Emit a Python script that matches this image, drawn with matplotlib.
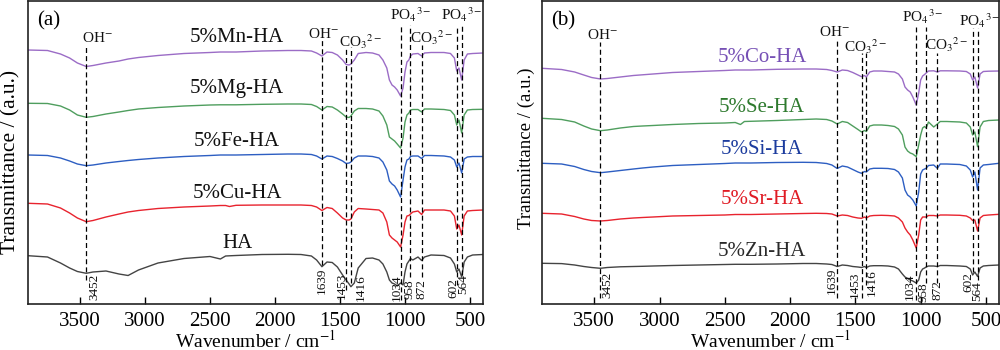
import matplotlib
matplotlib.use("Agg")
import matplotlib.pyplot as plt

plt.rcParams['font.family'] = ['Liberation Serif', 'DejaVu Serif']
plt.rcParams['mathtext.fontset'] = 'stix'

# ---------------- data ----------------
WN = [3900, 3750, 3650, 3580, 3520, 3452, 3400, 3300, 3200, 3130, 3050, 2900, 2700, 2500,
      2420, 2380, 2350, 2300, 2100, 1900, 1800, 1720, 1680, 1639, 1600, 1560, 1520, 1480,
      1453, 1430, 1416, 1390, 1360, 1300, 1250, 1200, 1170, 1140, 1120, 1100, 1080, 1060,
      1034, 1015, 1000, 985, 970, 958, 940, 900, 872, 850, 800, 700, 650, 620, 602, 585,
      564, 545, 520, 480, 400]

# panel (a)
mn_ha = [254, 253.5, 250, 246, 241, 237.5, 238.5, 241, 243, 245, 246.5, 248.5, 250.5, 251.5,
         252, 252, 252, 252, 253, 253.5, 253.5, 253, 251, 248, 252, 251.5, 249, 244, 239.5,
         239, 240, 244, 250.5, 251.5, 251, 249, 244, 236, 224, 219, 217, 214, 208, 216, 232,
         242, 244, 248, 250, 250.5, 248, 251, 251.5, 251.5, 250.5, 246, 233, 236, 224, 244,
         250, 250.5, 251]
mg_ha = [200.7, 200.5, 198, 194, 189, 186.7, 187.5, 190, 192, 193.5, 195, 196.5, 198, 199,
         199.2, 199.2, 199.2, 199.2, 199.7, 200, 200, 199.5, 197.5, 194, 197.5, 197, 194, 190,
         187, 186.5, 188, 193, 195.5, 195.5, 195, 193, 188, 179, 167, 165, 163, 160, 156, 166,
         182, 189, 191, 194, 194.5, 194.5, 192, 195, 195, 194.5, 193.5, 189, 179, 184, 171,
         189, 194, 194.5, 194.7]
fe_ha = [149, 148.5, 146, 143, 140, 138.3, 139, 141, 142.5, 143.5, 144.5, 146, 147.5, 148.5,
         149, 149, 149, 149, 149.5, 150, 150, 149.5, 148, 145, 148, 147.5, 145.5, 143, 140.5,
         141, 142, 146, 148, 148, 147.5, 146, 142, 134, 123, 120, 118, 114, 107, 124, 137,
         144, 145, 147.5, 148, 148, 145.5, 148.5, 148.5, 148, 147, 144, 137, 141, 131, 145,
         147, 147.5, 147.5]
cu_ha = [100.7, 100, 96, 91, 86, 82.3, 83.5, 87, 90, 92, 93.5, 95.5, 97, 98, 98.5, 98.5, 97.5,
         98.7, 99, 99, 99, 98.5, 97, 93.5, 96.5, 95.5, 91, 86, 84, 84, 85, 92, 95.5, 95, 94.5,
         94, 91, 82, 69, 66, 64, 62, 57, 69, 82, 88, 88.5, 90, 92, 93, 89.5, 94, 94, 94, 93,
         88, 75, 79, 69, 88, 93, 93.5, 94]
ha = [48.3, 47, 41, 36, 32.5, 30.7, 32, 33, 30, 28.5, 34, 41, 45.5, 47.5, 45, 48, 48.2, 48.5,
      49.5, 49.7, 49.5, 48, 44, 37.3, 42, 41.5, 37, 29, 24, 20, 17.3, 21, 36, 45.5, 46, 44, 40,
      32, 24, 21, 20, 18, 21, 19, 32, 40, 43, 45.5, 44, 47, 43.5, 47, 49, 48.5, 46, 40, 32, 35,
      27, 42, 47, 49, 49.5]

# panel (b)
co_ha = [235.7, 234.5, 232, 229, 226.5, 225, 225.5, 227, 228.5, 229.2, 230, 231.5, 232.5,
         233.5, 234, 234, 234, 234, 234.7, 235, 235, 234.5, 233.5, 232, 234, 233.5, 231.5, 229,
         227.3, 228.5, 227, 232, 233, 233, 232.5, 232, 230, 225, 217, 214, 212, 207, 199, 211,
         224, 228, 229.5, 231, 233, 233.2, 232, 233.2, 233.2, 233, 232.5, 230, 224, 227, 216,
         230, 232.5, 232.8, 233]
se_ha = [185.7, 184.5, 182, 178, 175, 173.3, 174, 176, 177.5, 178, 178.5, 179.5, 180.5, 181,
         181.5, 179.5, 182.5, 182.7, 183.5, 184.5, 185, 184.5, 183, 180, 182.5, 181.5, 178,
         174.5, 172, 173.5, 172.5, 178, 179, 179, 178.5, 177.5, 175, 169, 157, 153, 151, 150,
         147.3, 159, 169, 176, 177.5, 176, 182, 177, 180, 182.5, 182.5, 182, 181, 177, 169,
         172, 157.3, 177, 182.5, 183.5, 184]
si_ha = [140.7, 140, 137.5, 134.5, 132.5, 131.3, 132, 133.5, 135, 136, 137, 138.5, 139.5,
         140.5, 141, 141, 141, 141, 141.5, 141.7, 141.5, 140.5, 139, 135.5, 138, 137, 134.5,
         132, 130.7, 132.5, 132, 135, 135.7, 135.7, 135.5, 134.5, 132, 126, 114, 109, 107, 104,
         98, 112, 130, 134, 135, 135.7, 138.5, 139, 135.7, 140, 140, 139.5, 138, 134, 127, 132,
         114, 136, 139, 139.5, 140.7]
sr_ha = [90.7, 90, 87.5, 85, 83.5, 83, 83.5, 85, 86, 86.5, 87, 88, 88.5, 89, 89.5, 89.5, 89.5,
         89.5, 90, 90.5, 90.7, 90.5, 90, 88, 89, 88.5, 87, 86, 85.7, 87, 86, 88, 88.5, 88.7,
         88.5, 88, 86, 82, 76, 72, 69, 64, 56, 69, 84, 87, 87, 87, 88.5, 88.5, 88, 89, 89, 88.7,
         88, 86, 83.5, 84, 73, 86, 88.5, 89, 89.7]
zn_ha = [40.7, 40.4, 39, 37.5, 36.5, 35.7, 36.5, 37.2, 37.5, 37.7, 38, 38.5, 39, 39.5, 39.7,
         39.7, 39.7, 39.7, 40, 40.5, 40.5, 40, 39.5, 37.5, 39, 38.5, 37.5, 37, 36.5, 37.5, 36.5,
         38, 38.3, 38.3, 38, 37, 35, 30, 27, 25.5, 24, 23, 21, 24, 32, 35, 36, 37, 38, 38, 37.5,
         38.5, 38.5, 38, 37.5, 35, 29, 32, 27.5, 36, 38, 38.5, 39]

names_a = ['5%Mn-HA', '5%Mg-HA', '5%Fe-HA', '5%Cu-HA', 'HA']
names_b = ['5%Co-HA', '5%Se-HA', '5%Si-HA', '5%Sr-HA', '5%Zn-HA']

BAND_WN = [3452, 1639, 1453, 1416, 1034, 958, 872, 602, 564]
BAND_TXT = ['3452', '1639', '1453', '1416', '1034', '958', '872', '602', '564']

GROUP_TXT = [r'OH$^{-}$', r'OH$^{-}$', r'CO$_3{}^{2-}$', r'PO$_4{}^{3-}$', r'CO$_3{}^{2-}$',
             r'PO$_4{}^{3-}$']

XTICKS = [3500, 3000, 2500, 2000, 1500, 1000, 500]

# ---------------- style / layout ----------------
line_cols = ['#9b6cc6', '#4f9e5e', '#2d5ec2', '#e8232e', '#444444']
lab_cols_a = ['#111111'] * 5
lab_cols_b = ['#7650b5', '#2e7a2e', '#1c3c9e', '#e01b24', '#2a2a2a']

fig = plt.figure(figsize=(10, 3.5), dpi=100)
H = 350.0
ax_a = fig.add_axes([0.028, (H - 304) / H, 0.455, 303 / H])
ax_b = fig.add_axes([0.542, (H - 304) / H, 0.457, 303 / H])

panels = [
    dict(ax=ax_a, tag='(a)', series=[mn_ha, mg_ha, fe_ha, cu_ha, ha], names=names_a,
         labcols=lab_cols_a, lab_wn=2292, lab_h=[266, 215, 163, 111, 61],
         top=[257, 267, 257, 257, 279, 279, 259, 279, 279],
         bot=[24, 39, 14, 21, 4, 27, 27, 19, 29],
         num_dx=[8.5, 0, -4, 10, -4, -1, 0, -3, 2],
         num_h=[17, 23, 18, 16, 16, 15, 15, 16, 20],
         grp=[(3369, 266), (1625, 270), (1345, 262), (954, 289), (792, 266), (562, 289)],
         ylab_fs=15.5, ylab_x=-7.5 / 455, ylab_y=0.47),
    dict(ax=ax_b, tag='(b)', series=[co_ha, se_ha, si_ha, sr_ha, zn_ha], names=names_b,
         labcols=lab_cols_b, lab_wn=2215, lab_h=[246, 197, 154, 104, 53],
         top=[262, 266, 251, 251, 277, 277, 251, 276, 276],
         bot=[6, 6, 6, 19, 4, 21, 21, 32, 24],
         num_dx=[7, -5.7, -7, 5.7, -6, -2.4, 0, -4.5, -0.5],
         num_h=[19, 23, 19, 21, 17, 12, 14, 22, 13],
         grp=[(3440, 269), (1664, 272), (1418, 257), (982, 287), (798, 259), (548, 283)],
         ylab_fs=13.5, ylab_x=-7 / 457, ylab_y=0.513),
]

for p in panels:
    ax = p['ax']
    for vals, col in zip(p['series'], line_cols):
        ax.plot(WN, vals, color=col, lw=1.0)
    for wn, t, b, dx, nh, txt in zip(BAND_WN, p['top'], p['bot'], p['num_dx'], p['num_h'], BAND_TXT):
        ax.plot([wn, wn], [b, t], color='black', lw=0.9, ls=(0, (4, 2.5)))
        ax.annotate(txt, xy=(wn, nh), xytext=(dx * 0.72, 0), textcoords='offset points',
                    rotation=90, ha='center', va='center', fontsize=9.5, color='#111111')
    for (gx, gy), txt in zip(p['grp'], GROUP_TXT):
        ax.text(gx, gy, txt, ha='center', va='center', fontsize=11, color='#111111')
    for name, lh, lc in zip(p['names'], p['lab_h'], p['labcols']):
        ax.text(p['lab_wn'], lh, name, ha='center', va='center', fontsize=15, color=lc)
    ax.text(0.02, 0.935, p['tag'], transform=ax.transAxes, ha='left', va='center', fontsize=15)
    ax.set_xlim(3900, 400)
    ax.set_ylim(0, 303)
    ax.set_xticks(XTICKS)
    ax.set_xticklabels([str(v) for v in XTICKS])
    ax.set_yticks([])
    ax.tick_params(axis='x', direction='in', length=5, width=1, labelsize=15, pad=5.5)
    for s in ax.spines.values():
        s.set_linewidth(1.2)
        s.set_color('#222222')
    ax.set_xlabel(r'Wavenumber / cm$^{-1}$', fontsize=14, labelpad=-0.5)
    ax.set_ylabel('Transmittance / (a.u.)', fontsize=p['ylab_fs'])
    ax.yaxis.set_label_coords(p['ylab_x'], p['ylab_y'])

fig.savefig('out.png', dpi=100)
